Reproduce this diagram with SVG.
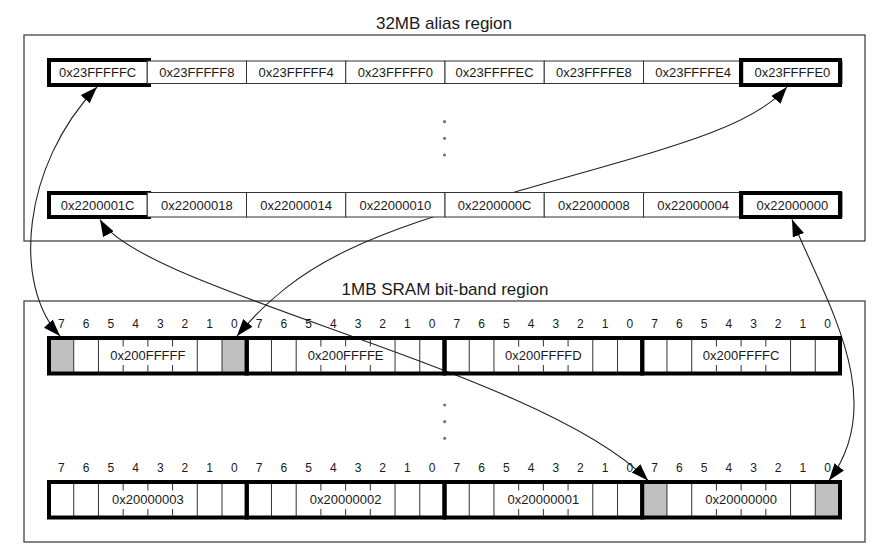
<svg xmlns="http://www.w3.org/2000/svg" width="877" height="551" viewBox="0 0 877 551">
<style>
text{font-family:"Liberation Sans",Arial,sans-serif;fill:#1a1a1a;text-anchor:middle}
.title{font-size:17px}
.lbl{font-size:13px}
.bit{font-size:12px}
.region{fill:#fff;stroke:#444;stroke-width:1.3}
.cell{fill:#fff;stroke:#333;stroke-width:1}
.hl{fill:none;stroke:#000;stroke-width:4}
.thin{fill:none;stroke:#333;stroke-width:1}
.bold{fill:none;stroke:#000;stroke-width:4}
.grey{fill:#c0c0c0;stroke:none}
.conn{fill:none;stroke:#222;stroke-width:1.1;marker-start:url(#ah);marker-end:url(#ah)}
.dot{fill:#777}
</style>
<defs>
<marker id="ah" markerUnits="userSpaceOnUse" viewBox="0 0 18 14" markerWidth="18" markerHeight="14" refX="17" refY="6" orient="auto-start-reverse">
<path d="M0,0 L17,6 L0,12 z" fill="#000"/>
</marker>
<g id="byteT">
<path class="thin" d="M24.72,0V35.5M49.44,0V35.5M148.31,0V35.5M173.03,0V35.5M74.16,2V8.5M98.88,2V8.5M123.59,2V8.5M74.16,27V33.5M98.88,27V33.5M123.59,27V33.5"/>
<rect class="bold" x="0" y="0" width="197.75" height="35.5"/>
</g>
<g id="bitsT">
<text class="bit" x="12.36" y="-10.5">7</text>
<text class="bit" x="37.08" y="-10.5">6</text>
<text class="bit" x="61.80" y="-10.5">5</text>
<text class="bit" x="86.52" y="-10.5">4</text>
<text class="bit" x="111.23" y="-10.5">3</text>
<text class="bit" x="135.95" y="-10.5">2</text>
<text class="bit" x="160.67" y="-10.5">1</text>
<text class="bit" x="185.39" y="-10.5">0</text>
</g>
</defs>
<rect width="877" height="551" fill="#fff"/>

<g id="alias-region">
<text class="title" x="444" y="29">32MB alias region</text>
<rect class="region" x="24" y="35" width="841" height="206"/>
<circle class="dot" cx="444.5" cy="121.7" r="1.6"/>
<circle class="dot" cx="444.5" cy="138.3" r="1.6"/>
<circle class="dot" cx="444.5" cy="155" r="1.6"/>
</g>
<g id="bitband-region">
<text class="title" x="445" y="295">1MB SRAM bit-band region</text>
<rect class="region" x="24" y="301" width="841" height="241"/>
<circle class="dot" cx="444.7" cy="405" r="1.6"/>
<circle class="dot" cx="444.7" cy="421.7" r="1.6"/>
<circle class="dot" cx="444.7" cy="438.3" r="1.6"/>
</g>

<g id="connectors">
<path class="conn" d="M97,87 C22,165 12,285 60,336"/>
<path class="conn" d="M787,87 C750,130 660,150 515,192 S300,260 237,336"/>
<path class="conn" d="M100,219.5 C140,290 540,370 648,480.5"/>
<path class="conn" d="M792,219.5 C825,300 890,400 829,480.5"/>
</g>

<g id="a-23FFFFFC"><rect class="cell" x="48" y="61" width="99.25" height="22.5"/><rect class="hl" x="49" y="60" width="100" height="25"/><text class="lbl" x="97.63" y="77">0x23FFFFFC</text></g>
<g id="a-23FFFFF8"><rect class="cell" x="147.25" y="61" width="99.25" height="22.5"/><text class="lbl" x="196.88" y="77">0x23FFFFF8</text></g>
<g id="a-23FFFFF4"><rect class="cell" x="246.5" y="61" width="99.25" height="22.5"/><text class="lbl" x="296.13" y="77">0x23FFFFF4</text></g>
<g id="a-23FFFFF0"><rect class="cell" x="345.75" y="61" width="99.25" height="22.5"/><text class="lbl" x="395.38" y="77">0x23FFFFF0</text></g>
<g id="a-23FFFFEC"><rect class="cell" x="445" y="61" width="99.25" height="22.5"/><text class="lbl" x="494.63" y="77">0x23FFFFEC</text></g>
<g id="a-23FFFFE8"><rect class="cell" x="544.25" y="61" width="99.25" height="22.5"/><text class="lbl" x="593.88" y="77">0x23FFFFE8</text></g>
<g id="a-23FFFFE4"><rect class="cell" x="643.5" y="61" width="99.25" height="22.5"/><text class="lbl" x="693.13" y="77">0x23FFFFE4</text></g>
<g id="a-23FFFFE0"><rect class="cell" x="742.75" y="61" width="99.25" height="22.5"/><rect class="hl" x="741" y="60" width="99" height="25"/><text class="lbl" x="792.38" y="77">0x23FFFFE0</text></g>

<g id="a-2200001C"><rect class="cell" x="48" y="192.5" width="99.25" height="24.5"/><rect class="hl" x="49" y="193" width="100" height="24"/><text class="lbl" x="97.63" y="209.5">0x2200001C</text></g>
<g id="a-22000018"><rect class="cell" x="147.25" y="192.5" width="99.25" height="24.5"/><text class="lbl" x="196.88" y="209.5">0x22000018</text></g>
<g id="a-22000014"><rect class="cell" x="246.5" y="192.5" width="99.25" height="24.5"/><text class="lbl" x="296.13" y="209.5">0x22000014</text></g>
<g id="a-22000010"><rect class="cell" x="345.75" y="192.5" width="99.25" height="24.5"/><text class="lbl" x="395.38" y="209.5">0x22000010</text></g>
<g id="a-2200000C"><rect class="cell" x="445" y="192.5" width="99.25" height="24.5"/><text class="lbl" x="494.63" y="209.5">0x2200000C</text></g>
<g id="a-22000008"><rect class="cell" x="544.25" y="192.5" width="99.25" height="24.5"/><text class="lbl" x="593.88" y="209.5">0x22000008</text></g>
<g id="a-22000004"><rect class="cell" x="643.5" y="192.5" width="99.25" height="24.5"/><text class="lbl" x="693.13" y="209.5">0x22000004</text></g>
<g id="a-22000000"><rect class="cell" x="742.75" y="192.5" width="99.25" height="24.5"/><rect class="hl" x="741" y="193" width="99" height="24"/><text class="lbl" x="792.38" y="209.5">0x22000000</text></g>

<g id="b-200FFFFF" transform="translate(49,338)"><rect class="grey" x="0" y="0" width="24.72" height="35.5"/><rect class="grey" x="173.03" y="0" width="24.72" height="35.5"/><use href="#byteT"/><use href="#bitsT"/><text class="lbl" x="98.88" y="21.5">0x200FFFFF</text></g>
<g id="b-200FFFFE" transform="translate(246.75,338)"><use href="#byteT"/><use href="#bitsT"/><text class="lbl" x="98.88" y="21.5">0x200FFFFE</text></g>
<g id="b-200FFFFD" transform="translate(444.5,338)"><use href="#byteT"/><use href="#bitsT"/><text class="lbl" x="98.88" y="21.5">0x200FFFFD</text></g>
<g id="b-200FFFFC" transform="translate(642.25,338)"><use href="#byteT"/><use href="#bitsT"/><text class="lbl" x="98.88" y="21.5">0x200FFFFC</text></g>

<g id="b-20000003" transform="translate(49,482)"><use href="#byteT"/><use href="#bitsT"/><text class="lbl" x="98.88" y="21.5">0x20000003</text></g>
<g id="b-20000002" transform="translate(246.75,482)"><use href="#byteT"/><use href="#bitsT"/><text class="lbl" x="98.88" y="21.5">0x20000002</text></g>
<g id="b-20000001" transform="translate(444.5,482)"><use href="#byteT"/><use href="#bitsT"/><text class="lbl" x="98.88" y="21.5">0x20000001</text></g>
<g id="b-20000000" transform="translate(642.25,482)"><rect class="grey" x="0" y="0" width="24.72" height="35.5"/><rect class="grey" x="173.03" y="0" width="24.72" height="35.5"/><use href="#byteT"/><use href="#bitsT"/><text class="lbl" x="98.88" y="21.5">0x20000000</text></g>
</svg>
